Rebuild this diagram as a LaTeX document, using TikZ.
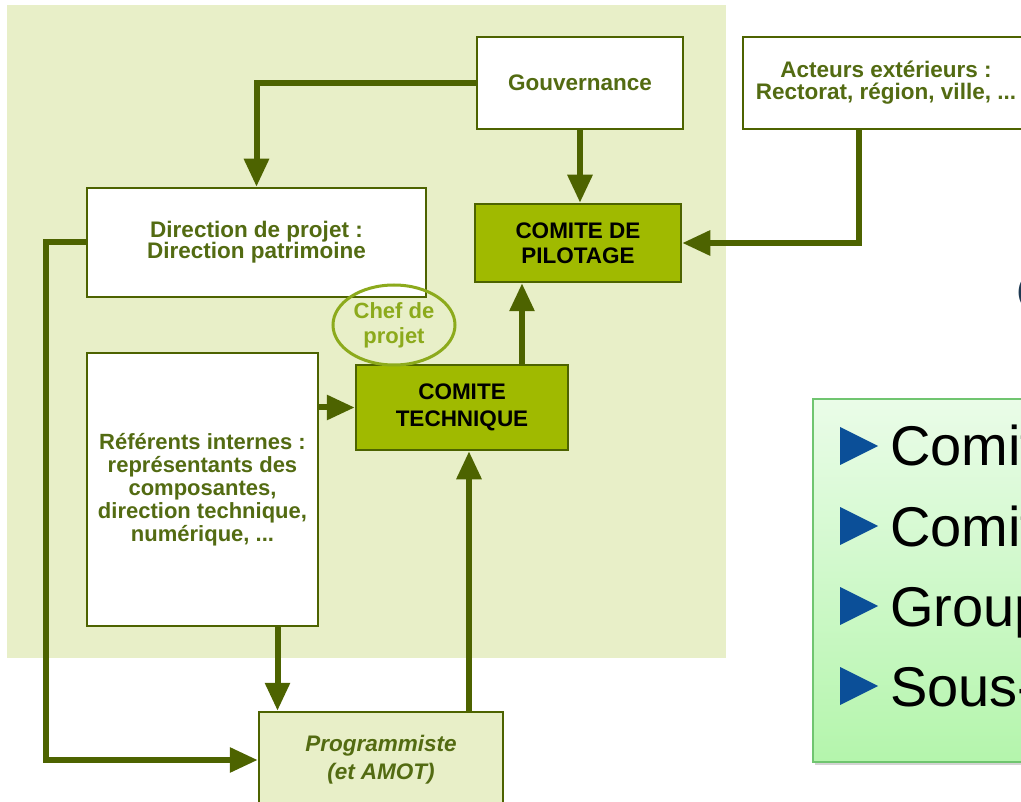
\documentclass[tikz,border=0pt]{standalone}
\usepackage{fontspec}
\setmainfont{Liberation Sans}
\usetikzlibrary{arrows.meta,shapes.geometric,shadows}
\definecolor{fond}{HTML}{E8EFC8}
\definecolor{vertfonce}{HTML}{4D6300}
\definecolor{texteolive}{HTML}{536B12}
\definecolor{vertcomite}{HTML}{A0BA00}
\definecolor{vertchef}{HTML}{8CAA1C}
\definecolor{bleupuce}{HTML}{0B4F98}
\definecolor{bordliste}{HTML}{70C570}
\definecolor{hautliste}{HTML}{EAFCE8}
\definecolor{basliste}{HTML}{B4F5AC}
\definecolor{marine}{HTML}{1E3A52}
\tikzset{
  boite/.style={draw=vertfonce, line width=2.5pt, fill=white, text=texteolive, align=center, inner sep=0pt, font=\bfseries\fontsize{22.5}{21}\selectfont},
  comite/.style={boite, fill=vertcomite, text=black},
  fleche/.style={-{Triangle[length=28pt,width=24pt]}, line width=6pt, draw=vertfonce},
  puce/.style={fill=bleupuce},
  ligneliste/.style={anchor=base west, inner sep=0pt, font=\fontsize{56}{56}\selectfont}
}
\begin{document}
\begin{tikzpicture}[x=1pt,y=-1pt]
        \clip (0,0) rectangle (1021,802);
        \fill[fond] (7,5) rectangle (726,658);
        \node (gouv) at (580,83)[boite, minimum width=206pt, minimum height=92pt]{Gouvernance};
        \node (acteurs) at (886,83)[boite, minimum width=286pt, minimum height=92pt, font=\bfseries\fontsize{22.5}{22}\selectfont]{Acteurs extérieurs :\\Rectorat, région, ville, ...};
        \node (direction) at (256.5,242.5)[boite, minimum width=339pt, minimum height=109pt]{Direction de projet :\\Direction patrimoine};
        \node (pilotage) at (578,243)[comite, minimum width=206pt, minimum height=78pt, font=\bfseries\fontsize{22.5}{25}\selectfont]{COMITE DE\\PILOTAGE};
        \node (technique) at (462,407.5)[comite, minimum width=212pt, minimum height=85pt, font=\bfseries\fontsize{22.5}{27}\selectfont]{COMITE\\TECHNIQUE};
        \node (referents) at (202.5,489.5)[boite, minimum width=231pt, minimum height=273pt, font=\bfseries\fontsize{22}{23}\selectfont]{Référents internes :\\représentants des\\composantes,\\direction technique,\\numérique, ...};
        \node (programmiste) at (381,760)[boite, fill=fond, minimum width=244pt, minimum height=96pt, font=\bfseries\itshape\fontsize{22.5}{28}\selectfont]{Programmiste\\(et AMOT)};
        \node (chef) at (394,325)[ellipse, draw=vertchef, line width=3pt, minimum width=122pt, minimum height=80pt, inner sep=0pt, align=center, text=vertchef, font=\bfseries\fontsize{22}{25}\selectfont]{Chef de\\projet};

        \draw[fleche] (gouv.west) -| (direction.north);
        \draw[fleche] (gouv.south) -- (gouv.south |- pilotage.north);
        \draw[fleche] ([xshift=-27pt]acteurs.south) |- (pilotage.east);
        \coordinate (coin) at (46,760);
        \draw[fleche] (direction.west) -| (coin) -- (programmiste.west);
        \draw[fleche] (referents.east |- technique.west) -- (technique.west);
        \draw[fleche] ([xshift=75pt]referents.south) -- ([xshift=75pt]referents.south |- programmiste.north);
        \draw[fleche] ([xshift=7pt]technique.south |- programmiste.north) -- ([xshift=7pt]technique.south);
        \draw[fleche] ([xshift=60pt]technique.north) -- ([xshift=60pt]technique.north |- pilotage.south);

        \node (liste) at (921.5,580.5)[draw=bordliste, line width=1.5pt, top color=hautliste, bottom color=basliste, minimum width=217pt, minimum height=363pt, drop shadow={opacity=0.35, shadow xshift=2pt, shadow yshift=-3pt}]{};
        \foreach \y/\mot in {446/Comit, 526/Comit, 606/Group, 686/Sous-}{
            \fill[puce] (840,\y-19) -- (878,\y) -- (840,\y+19) -- cycle;
            \node (item\y) at (890,\y+20)[ligneliste]{\mot};
        }
        \node (paren) at (1016.5,293)[anchor=west, inner sep=0pt, text=marine, font=\fontsize{34}{34}\selectfont]{(};
    \end{tikzpicture}
\end{document}
